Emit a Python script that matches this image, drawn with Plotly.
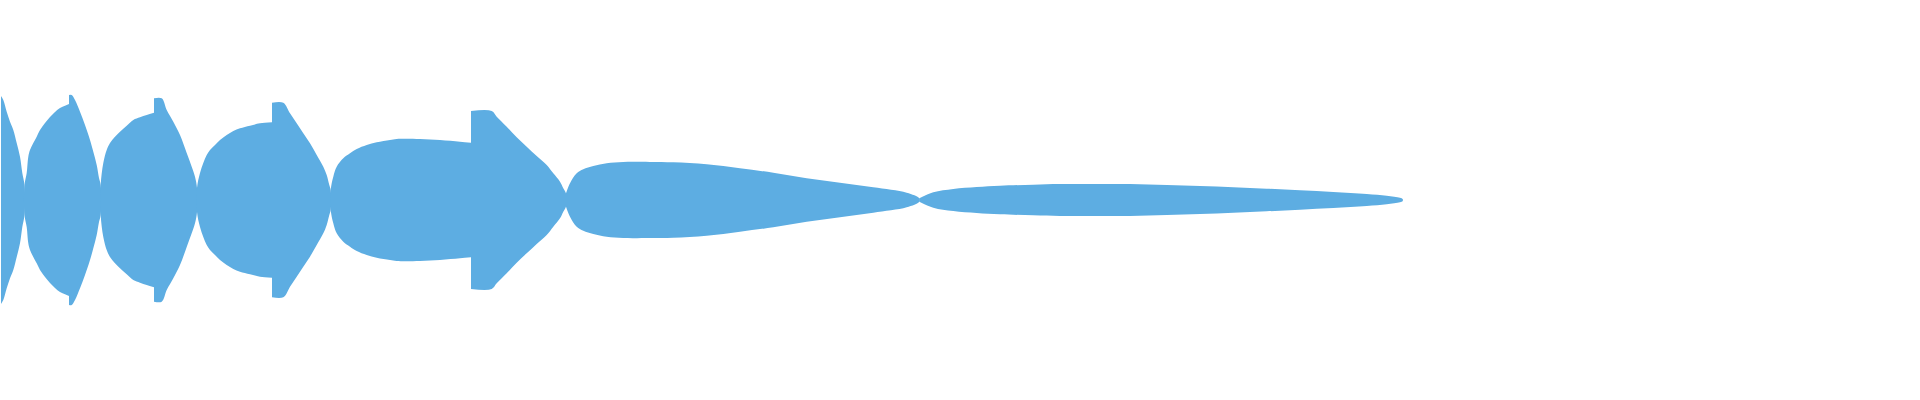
import plotly.graph_objects as go

# Half-widths (hw) of the flow band read at x positions, per segment
seg_a_x = [1, 3.3, 6.7, 10, 13.3, 16.7, 20, 22.3, 24.5]
seg_a_hw = [104, 100, 88.3, 78.3, 70, 57, 43.3, 27, 15]

seg_b_x = [24.5, 26.7, 28.3, 30, 33.3, 36.7, 40, 45, 50, 55, 60, 65, 69]
seg_b_hw = [15, 27, 43.3, 50, 57, 63.3, 70, 77, 83, 88, 92, 94.3, 96]

seg_c_x = [69, 71.7, 75, 80, 85, 90, 93.3, 96.7, 99, 100.7]
seg_c_hw = [105, 105, 100, 88.3, 75, 60, 48.3, 35, 22, 15]

seg_d_x = [100.7, 103.3, 106.7, 110, 115, 120, 126.7, 133.3, 140, 146.7, 154]
seg_d_hw = [15, 37, 50, 57, 63.3, 68.3, 74.3, 80, 82.7, 85, 87.3]

seg_e_x = [154, 161.7, 166.7, 173.3, 180, 186.7, 191.7, 195, 197]
seg_e_hw = [101.7, 101.7, 90, 78.3, 65, 47, 33.3, 23.3, 12]

seg_f_x = [197, 200, 203.3, 206.7, 210, 215, 220, 226.7, 233.3, 240, 250, 260, 272]
seg_f_hw = [12, 27, 37, 45, 50, 55, 60, 65, 69, 71.7, 74.3, 76.7, 77.7]

seg_g_x = [272, 283.3, 290, 296.7, 303.3, 310, 316.7, 323.3, 326.7, 329.3, 330.7]
seg_g_hw = [97.3, 97.3, 86.7, 76.7, 66.7, 56.7, 45, 33.3, 25, 15, 10]

seg_h_x = [330.7, 333.3, 336.7, 343.3, 350, 356.7, 366.7, 376.7, 390, 396.7, 420, 440, 460, 471]
seg_h_hw = [10, 23.3, 33.3, 41.7, 46.7, 51, 55, 57.7, 60, 61, 61, 60, 58.3, 57.3]

seg_i_x = [471, 491.7, 496.7, 506.7, 516.7, 526.7, 536.7, 546.7, 553.3, 560, 563.3, 566]
seg_i_hw = [89, 89, 83.3, 73.3, 62.7, 53.3, 44, 35, 26.7, 18.3, 11.7, 6.5]

seg_j_x = [566, 570, 576.7, 583.3, 593.3, 606.7, 623.3, 650, 673.3, 706.7, 740, 773.3,
           806.7, 840, 873.3, 906.7, 919.3]
seg_j_hw = [6.7, 16.7, 26.7, 30.7, 34, 36.7, 38, 38, 37.7, 35.7, 31.7, 27.3,
            21.7, 17.3, 12.7, 7.3, 1.7]

seg_k_x = [919.3, 933.3, 953.3, 976.7, 1000, 1033.3, 1060, 1095, 1130, 1166.7, 1200,
           1233.3, 1266.7, 1300, 1333.3, 1366.7, 1386.7, 1400, 1402.7]
seg_k_hw = [1.7, 7.7, 11, 13, 14.3, 15.3, 16, 16, 16, 15, 14, 12.7, 11.3, 9.7, 8, 6,
            4.3, 2.3, 1]

# which side of each segment is a straight (hard) cut
segments = [
    (seg_a_x, seg_a_hw, "left"),
    (seg_b_x, seg_b_hw, "right"),
    (seg_c_x, seg_c_hw, "left"),
    (seg_d_x, seg_d_hw, "right"),
    (seg_e_x, seg_e_hw, "left"),
    (seg_f_x, seg_f_hw, "right"),
    (seg_g_x, seg_g_hw, "left"),
    (seg_h_x, seg_h_hw, "right"),
    (seg_i_x, seg_i_hw, "left"),
    (seg_j_x, seg_j_hw, "left"),
    (seg_k_x, seg_k_hw, "left"),
]

COLOR = "#5DADE2"

fig = go.Figure()
for xs, hw, hard in segments:
    if hard == "right":
        xs = xs[::-1]
        hw = hw[::-1]
    px = list(xs) + list(xs[::-1])
    py = list(hw) + [-h for h in hw[::-1]]
    fig.add_trace(go.Scatter(
        x=px, y=py, mode="lines", fill="toself", fillcolor=COLOR,
        line=dict(width=0, shape="spline", color=COLOR),
        hoverinfo="skip", showlegend=False,
    ))

fig.update_layout(
    width=1920, height=400,
    margin=dict(l=0, r=0, t=0, b=0),
    paper_bgcolor="white", plot_bgcolor="white",
    xaxis=dict(range=[0, 1920], visible=False, fixedrange=True),
    yaxis=dict(range=[-200, 200], visible=False, fixedrange=True),
    showlegend=False,
)

fig.write_html(
    "out.html",
    config={"displayModeBar": False},
    post_script="document.body.style.margin='0';document.body.style.overflow='hidden';",
)
